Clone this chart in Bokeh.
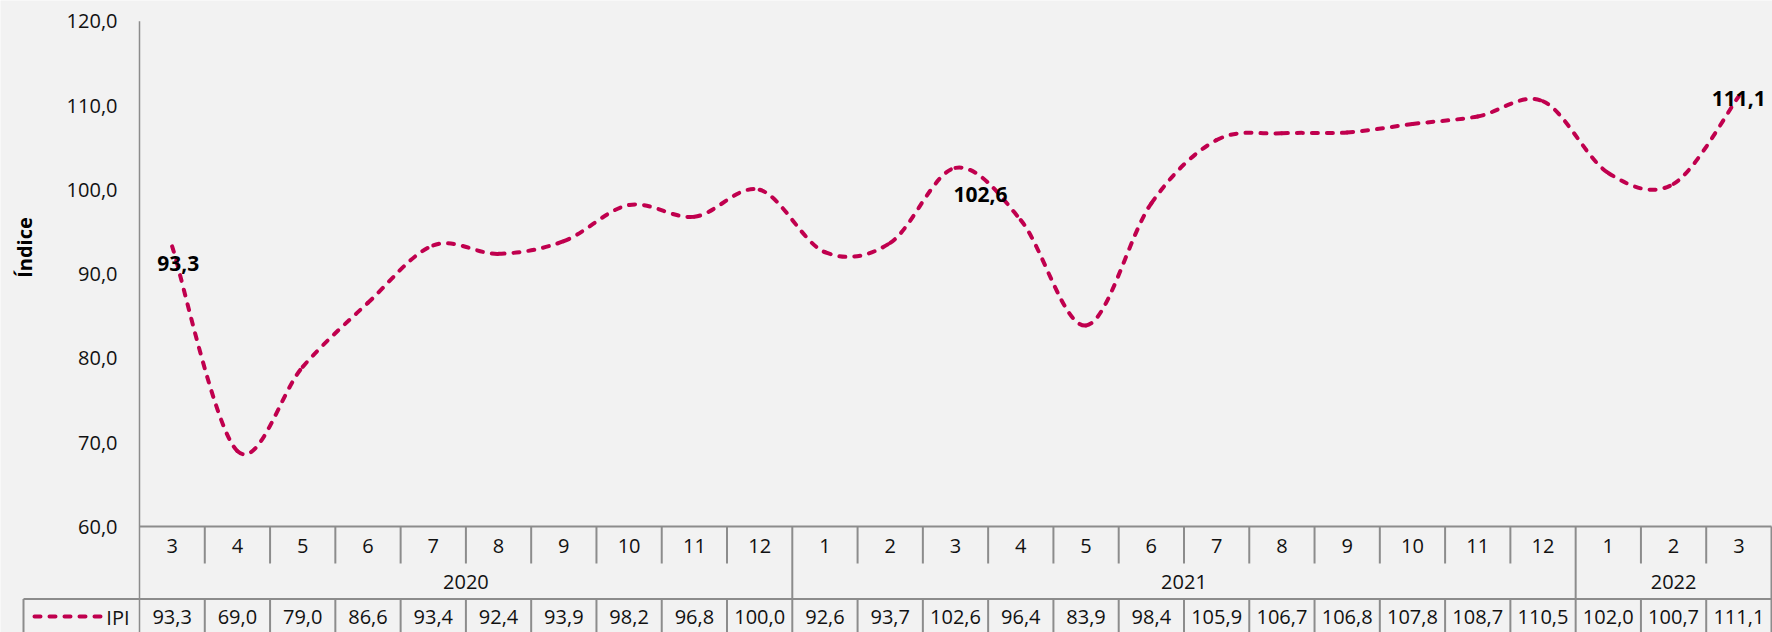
import numpy as np
from bokeh.plotting import figure
from bokeh.models import Range1d
from bokeh.embed import file_html
from bokeh.resources import INLINE
from bokeh.core.properties import value

# ---------------- data ----------------
months = ["3", "4", "5", "6", "7", "8", "9", "10", "11", "12",
          "1", "2", "3", "4", "5", "6", "7", "8", "9", "10", "11", "12",
          "1", "2", "3"]
years = ["2020", "2021", "2022"]
year_counts = [10, 12, 3]
ipi = [93.3, 69.0, 79.0, 86.6, 93.4, 92.4, 93.9, 98.2, 96.8, 100.0,
       92.6, 93.7, 102.6, 96.4, 83.9, 98.4, 105.9, 106.7, 106.8, 107.8, 108.7, 110.5,
       102.0, 100.7, 111.1]
series_name = "IPI"
y_ticks = [60, 70, 80, 90, 100, 110, 120]
axis_title = "Índice"
label_idx = [0, 12, 24]

# ---------------- style / layout ----------------
BG = "#f2f2f2"
LINE_COLOR = "#c0004e"
GRID = "#8c8c8c"
TXT = "#111111"
FONT = "Open Sans"
FS = "20px"
FS_BOLD = "21px"

W, H = 1772, 632
REF_W, REF_H = 1772, 632
AX_X, RIGHT_X = 139, 1771   # axis line and right edge (px)
n = len(ipi)
cw = (RIGHT_X - AX_X) / n
PY_TOP = 20.7               # px of y = 120
PPU = 8.43                  # px per unit


def xd(px):
    return (px - AX_X) / cw


def yd(py):
    return y_ticks[-1] + (PY_TOP - py) / PPU


p = figure(width=W, height=H, output_backend="svg", toolbar_location=None,
           x_range=Range1d(xd(0), xd(REF_W)), y_range=Range1d(yd(REF_H), yd(0)),
           x_axis_location=None, y_axis_location=None, min_border=0,
           background_fill_color=BG, border_fill_color=BG, outline_line_color=None)
p.xgrid.grid_line_color = None
p.ygrid.grid_line_color = None


def fmt(v):
    return f"{v:.1f}".replace(".", ",")


# ---------------- table rows (px) ----------------
T_TOP, T_CAT, T_YEAR, T_BOT = 526, 563, 598.5, REF_H + 2
LEG_LEFT = 23

x = [i + 0.5 for i in range(n)]

# axis line
p.segment(x0=[0], y0=[y_ticks[-1]], x1=[0], y1=[yd(T_BOT)], line_color=GRID, line_width=1.5)

# horizontal table lines
p.segment(x0=[0, xd(LEG_LEFT)], y0=[yd(T_TOP), yd(T_YEAR)], x1=[n, n], y1=[yd(T_TOP), yd(T_YEAR)],
          line_color=GRID, line_width=2)

# vertical separators
bounds = [int(b) for b in np.cumsum(year_counts)]
month_sep = [k for k in range(1, n) if k not in bounds]
p.segment(x0=month_sep, y0=[yd(T_TOP)] * len(month_sep), x1=month_sep, y1=[yd(T_CAT)] * len(month_sep),
          line_color=GRID, line_width=2)
p.segment(x0=bounds, y0=[yd(T_TOP)] * len(bounds), x1=bounds, y1=[yd(T_YEAR)] * len(bounds),
          line_color=GRID, line_width=2)
data_sep = [xd(LEG_LEFT)] + list(range(1, n + 1))
p.segment(x0=data_sep, y0=[yd(T_YEAR)] * len(data_sep), x1=data_sep, y1=[yd(T_BOT)] * len(data_sep),
          line_color=GRID, line_width=2)

# ---------------- smooth line (Bezier, Excel-like smoothing) ----------------
xs = np.array(x)
ys = np.array(ipi)
x0s, y0s, x1s, y1s, cx0, cy0, cx1, cy1 = [], [], [], [], [], [], [], []
for i in range(n - 1):
    a = max(i - 1, 0)
    d = min(i + 2, n - 1)
    x0s.append(xs[i]); y0s.append(ys[i])
    x1s.append(xs[i + 1]); y1s.append(ys[i + 1])
    cx0.append(xs[i] + (xs[i + 1] - xs[a]) / 6)
    cy0.append(ys[i] + (ys[i + 1] - ys[a]) / 6)
    cx1.append(xs[i + 1] - (xs[d] - xs[i]) / 6)
    cy1.append(ys[i + 1] - (ys[d] - ys[i]) / 6)
p.bezier(x0=x0s, y0=y0s, x1=x1s, y1=y1s, cx0=cx0, cy0=cy0, cx1=cx1, cy1=cy1,
         line_color=LINE_COLOR, line_width=4, line_dash="6 9", line_cap="round")

# data labels
lab_dx = [6, 25, 0]
lab_dy = [17, 27, 2]
p.text(x=[x[i] for i in label_idx], y=[ipi[i] for i in label_idx],
       text=[fmt(ipi[i]) for i in label_idx], x_offset=lab_dx, y_offset=lab_dy,
       text_font=value(FONT), text_font_size=FS_BOLD, text_font_style="bold",
       text_color="#000000", text_align="center", text_baseline="middle")

# y tick labels
p.text(x=[xd(117)] * len(y_ticks), y=y_ticks, text=[fmt(v) for v in y_ticks],
       text_font=value(FONT), text_font_size=FS, text_color=TXT,
       text_align="right", text_baseline="middle")

# axis title
p.text(x=[xd(23.5)], y=[yd(247)], text=[axis_title], angle=np.pi / 2,
       text_font=value(FONT), text_font_size=FS, text_font_style="bold",
       text_color="#000000", text_align="center", text_baseline="middle")

# month row
p.text(x=x, y=[yd(545)] * n, text=months,
       text_font=value(FONT), text_font_size=FS, text_color=TXT,
       text_align="center", text_baseline="middle")

# year row
starts = [0] + bounds[:-1]
p.text(x=[s + c / 2 for s, c in zip(starts, year_counts)], y=[yd(581)] * len(years),
       text=years, text_font=value(FONT), text_font_size=FS, text_color=TXT,
       text_align="center", text_baseline="middle")

# data row
p.text(x=x, y=[yd(616.5)] * n, text=[fmt(v) for v in ipi],
       text_font=value(FONT), text_font_size=FS, text_color=TXT,
       text_align="center", text_baseline="middle")

# legend key in table
p.text(x=[xd(129)], y=[yd(616.5)], text=[series_name],
       text_font=value(FONT), text_font_size=FS, text_color=TXT,
       text_align="right", text_baseline="middle")
p.segment(x0=[xd(34)], y0=[yd(616)], x1=[xd(101)], y1=[yd(616)],
          line_color=LINE_COLOR, line_width=4, line_dash="6 9", line_cap="round")

open("out.html", "w").write(file_html(p, INLINE))
